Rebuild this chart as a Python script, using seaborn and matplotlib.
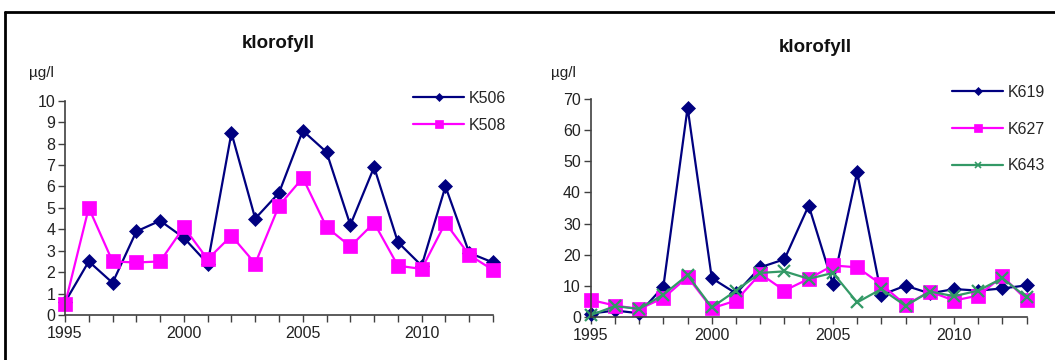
import matplotlib
matplotlib.use("Agg")
import matplotlib.pyplot as plt
from matplotlib.lines import Line2D
import pandas as pd
import seaborn as sns

# Chlorophyll (klorofyll) yearly values, µg/l
years = list(range(1995, 2014))

k506 = [0.6, 2.5, 1.5, 3.9, 4.4, 3.6, 2.4, 8.5, 4.5, 5.7, 8.6, 7.6, 4.2, 6.9, 3.4, 2.3, 6.0, 2.9, 2.45]
k508 = [0.5, 5.0, 2.5, 2.45, 2.5, 4.1, 2.6, 3.7, 2.4, 5.1, 6.4, 4.1, 3.2, 4.3, 2.3, 2.15, 4.3, 2.8, 2.1]

k619 = [1.0, 2.0, 1.1, 9.7, 67.3, 12.4, 7.5, 15.9, 18.5, 35.8, 10.5, 46.5, 7.0, 10.0, 7.5, 8.9, 8.4, 9.1, 10.1]
k627 = [5.4, 3.6, 2.5, 6.0, 12.8, 2.7, 5.2, 13.8, 8.4, 12.2, 16.5, 15.9, 10.4, 3.8, 8.1, 5.2, 6.8, 13.0, 5.4]
k643 = [0.5, 3.4, 2.5, 7.1, 13.4, 3.0, 8.4, 14.1, 14.6, 12.2, 14.1, 4.6, 8.9, 3.5, 8.1, 6.6, 8.4, 12.4, 6.2]

title = "klorofyll"
unit = "µg/l"
year_ticks = [1995, 2000, 2005, 2010]

colors = {"K506": "#000080", "K508": "#FF00FF",
          "K619": "#000080", "K627": "#FF00FF", "K643": "#339966"}
markers = {"K506": "D", "K508": "s", "K619": "D", "K627": "s", "K643": "x"}
msize = {"D": 7.3, "s": 9.5, "x": 8}

sns.set_style("ticks")
plt.rcParams["font.family"] = ["Liberation Sans", "DejaVu Sans"]

fig = plt.figure(figsize=(10.55, 3.6), dpi=100)

spine_color = "#404040"


def draw_panel(rect, series, ymax, ystep, legend_anchor, labelspacing):
    ax = fig.add_axes(rect)
    names = list(series.keys())
    for n in names:
        df = pd.DataFrame({"year": years, "value": series[n]})
        m = markers[n]
        sns.lineplot(data=df, x="year", y="value", color=colors[n],
                     marker=m, markersize=msize[m],
                     markeredgecolor=colors[n], markerfacecolor=colors[n],
                     markeredgewidth=1.6 if m == "x" else 0.5,
                     linewidth=1.6, ax=ax, label=n, clip_on=False)
    ax.set_xlim(1995, 2013)
    ax.set_ylim(0, ymax)
    ax.set_xticks(years)
    ax.set_xticklabels([str(y) if y in year_ticks else "" for y in years])
    ax.set_yticks(range(0, ymax + 1, ystep))
    ax.tick_params(axis="both", labelsize=11.5, colors=spine_color,
                   labelcolor="#222222", length=5, width=1, direction="out")
    ax.tick_params(axis="x", pad=3)
    ax.tick_params(axis="y", pad=2)
    for s in ("left", "bottom"):
        ax.spines[s].set_color(spine_color)
        ax.spines[s].set_linewidth(1.2)
    sns.despine(ax=ax)
    ax.set_xlabel("")
    ax.set_ylabel("")

    handles = []
    for n in names:
        m = markers[n]
        handles.append(Line2D([], [], color=colors[n], linewidth=1.6, marker=m,
                              markersize=msize[m] * 0.6,
                              markeredgewidth=1.2 if m == "x" else 0.5,
                              markerfacecolor=colors[n], markeredgecolor=colors[n]))
    ax.legend(handles, names, loc="upper left", bbox_to_anchor=legend_anchor,
              bbox_transform=fig.transFigure, frameon=False, fontsize=11.5,
              handlelength=3.2, handletextpad=0.3, labelspacing=labelspacing,
              borderpad=0, borderaxespad=0)
    return ax


W, H = 1055.0, 360.0
ax1 = draw_panel([65 / W, 45 / H, 428 / W, 214.3 / H],
                 {"K506": k506, "K508": k508}, 10, 1,
                 (413 / W, 1 - 91 / H), 0.75)
ax2 = draw_panel([590.7 / W, 43.3 / H, 436 / W, 217.4 / H],
                 {"K619": k619, "K627": k627, "K643": k643}, 70, 10,
                 (952 / W, 1 - 85 / H), 1.35)

# titles and unit labels
fig.text(278.5 / W, 1 - 44 / H, title, ha="center", va="center",
         fontsize=13.5, fontweight="bold", color="#111111")
fig.text(815 / W, 1 - 47 / H, title, ha="center", va="center",
         fontsize=13.5, fontweight="bold", color="#111111")
fig.text(41.5 / W, 1 - 73 / H, unit, ha="center", va="center",
         fontsize=11, color="#222222")
fig.text(563.5 / W, 1 - 73 / H, unit, ha="center", va="center",
         fontsize=11, color="#222222")

# outer frame (top and left edges)
fig.add_artist(Line2D([5 / W, 1.0], [1 - 12 / H, 1 - 12 / H],
                      transform=fig.transFigure, color="black", linewidth=2))
fig.add_artist(Line2D([5 / W, 5 / W], [0.0, 1 - 12 / H],
                      transform=fig.transFigure, color="black", linewidth=2))

fig.savefig("out.png", dpi=100)
